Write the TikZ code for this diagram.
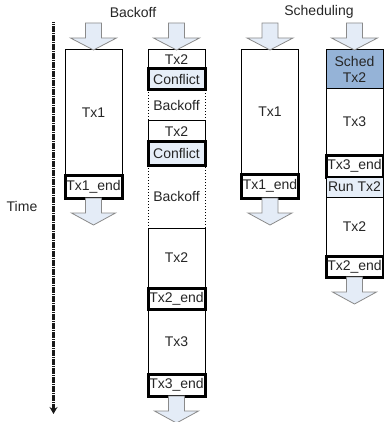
\documentclass[tikz,border=0pt]{standalone}
\usepackage{fontspec}
\setmainfont{Liberation Sans}
\usetikzlibrary{
    arrows.meta,
    positioning
}
\definecolor{flowfill}{HTML}{E4ECF7}
\definecolor{flowline}{HTML}{8A8A8A}
\definecolor{hintfill}{HTML}{E6EEF8}
\definecolor{schedfill}{HTML}{95B3D7}
\definecolor{inktext}{HTML}{262626}

% block arrow into the top of a column / out of its bottom
\newcommand{\flowin}[1]{%
    \draw[flow, shift={(#1.north)}] (-8,-27) -- (8,-27) -- (8,-12) -- (23,-12)
        -- (0,0) -- (-23,-12) -- (-8,-12) -- cycle;}
\newcommand{\flowout}[1]{%
    \draw[flow, shift={(#1.south)}] (-8,0) -- (8,0) -- (8,15) -- (22,15)
        -- (0,27) -- (-22,15) -- (-8,15) -- cycle;}

\begin{document}
\begin{tikzpicture}[
        x=1pt, y=-1pt,
        font=\fontsize{14}{16}\selectfont, text=inktext,
        seg/.style={draw, line width=1pt, minimum width=57pt, inner sep=0pt,
            outer sep=0pt, align=center},
        endseg/.style={seg, line width=3pt, fill=white},
        conflict/.style={endseg, fill=hintfill},
        backoff/.style={seg, dotted},
        sched/.style={seg, fill=schedfill},
        runseg/.style={seg, fill=hintfill},
        flow/.style={draw=flowline, fill=flowfill, line width=0.8pt, line join=miter},
        timeline/.style={draw=black!90, line width=3pt, dash pattern=on 1.4pt off 0.4pt,
            -{Stealth[length=7pt, width=8pt]}},
        title/.style={font=\fontsize{14}{16}\selectfont},
    ]
        \useasboundingbox (0,0) rectangle (383,422);

        % Time axis
        \coordinate (t0) at (53.5,22);
        \coordinate (t1) at (53.5,414);
        \draw[timeline] (t0) -- (t1);
        \node[title] (time) at (22,206) {Time};

        % Titles
        \node[title] (backoff) at (133,12) {Backoff};
        \node[title] (scheduling) at (319,12) {Scheduling};

        % Backoff: first core
        \node[seg, anchor=north, minimum height=125pt] (a1) at (93.5,50) {Tx1};
        \node[endseg, minimum height=23pt, below=0pt of a1] (a2) {Tx1\_end};

        % Backoff: second core
        \node[seg, anchor=north, minimum height=19pt] (b1) at (176.5,50) {Tx2};
        \node[conflict, minimum height=21pt, below=0pt of b1] (b2) {Conflict};
        \node[backoff, minimum height=31pt, below=0pt of b2] (b3) {Backoff};
        \node[seg, minimum height=21pt, below=0pt of b3] (b4) {Tx2};
        \node[conflict, minimum height=23pt, below=0pt of b4] (b5) {Conflict};
        \node[seg, minimum height=60pt, below=63pt of b5] (b7) {Tx2};
        \node[backoff, minimum height=63pt, below=0pt of b5] (b6) {Backoff};
        \node[endseg, minimum height=21pt, below=0pt of b7] (b8) {Tx2\_end};
        \node[seg, minimum height=65pt, below=0pt of b8] (b9) {Tx3};
        \node[endseg, minimum height=22pt, below=0pt of b9] (b10) {Tx3\_end};

        % Scheduling: first core
        \node[seg, anchor=north, minimum height=124pt] (c1) at (270,50) {Tx1};
        \node[endseg, minimum height=24pt, below=0pt of c1] (c2) {Tx1\_end};

        % Scheduling: second core
        \node[sched, anchor=north, minimum height=39pt] (d1) at (354.5,50) {Sched\\Tx2};
        \node[seg, minimum height=66pt, below=0pt of d1] (d2) {Tx3};
        \node[endseg, minimum height=22pt, below=0pt of d2] (d3) {Tx3\_end};
        \node[runseg, minimum height=20pt, below=0pt of d3] (d4) {Run Tx2};
        \node[seg, minimum height=59pt, below=0pt of d4] (d5) {Tx2};
        \node[endseg, minimum height=21pt, below=0pt of d5] (d6) {Tx2\_end};

        % Block arrows in and out
        \foreach \top in {a1, b1, c1, d1} {\flowin{\top}}
        \foreach \bot in {a2, b10, c2, d6} {\flowout{\bot}}
    \end{tikzpicture}
\end{document}
